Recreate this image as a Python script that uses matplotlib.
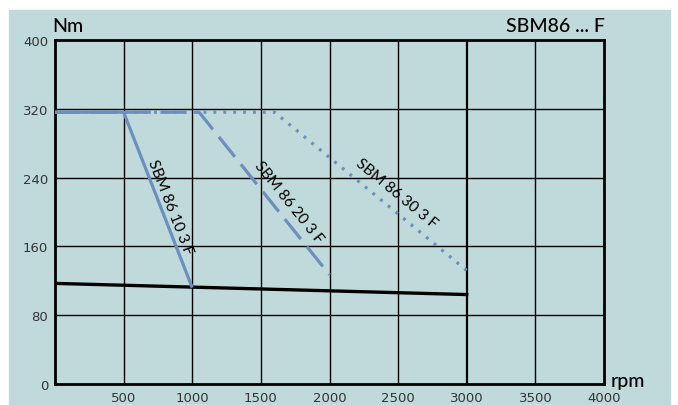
import math
import matplotlib
matplotlib.use("Agg")
import matplotlib.pyplot as plt
from matplotlib.patches import Rectangle

# --------------------------------------------------
# Chart data
# --------------------------------------------------
x_ticks = [500, 1000, 1500, 2000, 2500, 3000, 3500, 4000]
y_ticks = [0, 80, 160, 240, 320, 400]

limit_rpm = [0, 3000]
limit_nm = [117, 104]

m10_rpm = [0, 500, 1000]
m10_nm = [316, 316, 112]

m20_rpm = [0, 1050, 2000]
m20_nm = [316, 316, 127]

m30_rpm = [0, 1600, 3000]
m30_nm = [316, 316, 132]

labels = ["SBM 86 10 3 F", "SBM 86 20 3 F", "SBM 86 30 3 F"]
label_pos = [(840, 206), (1700, 212), (2490, 222)]

bg = "#C0DADB"
blue = "#6B8FBF"

# --------------------------------------------------
# Figure
# --------------------------------------------------
fig = plt.figure(figsize=(6.78, 4.06), dpi=100)
fig.patches.append(Rectangle((9 / 678, 0), 661 / 678, 395 / 406,
                             transform=fig.transFigure, color=bg, zorder=-5))
ax = fig.add_axes([55 / 678, 21 / 406, 549 / 678, 344 / 406])
ax.set_facecolor(bg)
ax.set_xlim(0, 4000)
ax.set_ylim(0, 400)

# grid
for xv in x_ticks[:-1]:
    ax.axvline(xv, color="black", lw=1.6 if xv == 3000 else 1.0, zorder=1)
for yv in y_ticks[1:-1]:
    ax.axhline(yv, color="black", lw=1.0, zorder=1)
for s in ax.spines.values():
    s.set_linewidth(2.0)

# curves (dotted underneath, solid on top)
ax.plot(limit_rpm, limit_nm, color="black", lw=2.4, zorder=3)
ax.plot(m30_rpm, m30_nm, color=blue, lw=2.3, dashes=(0.9, 2.2), zorder=3)
ax.plot(m20_rpm, m20_nm, color=blue, lw=2.3, dashes=(8, 3), zorder=3)
ax.plot(m10_rpm, m10_nm, color=blue, lw=2.3, solid_capstyle="butt", zorder=3)

# rotated labels following the slopes
fig.canvas.draw()
for (xs, ys), text, (tx, ty) in zip([(m10_rpm, m10_nm), (m20_rpm, m20_nm), (m30_rpm, m30_nm)],
                                     labels, label_pos):
    p1 = ax.transData.transform((xs[1], ys[1]))
    p2 = ax.transData.transform((xs[2], ys[2]))
    ang = math.degrees(math.atan2(p2[1] - p1[1], p2[0] - p1[0]))
    ax.text(tx, ty, text, rotation=ang, rotation_mode="anchor", ha="center", va="center",
            fontsize=11, family="Lato", color="black", zorder=4)

# ticks
ax.set_xticks(x_ticks)
ax.set_yticks(y_ticks)
ax.tick_params(length=0, labelsize=9.5, colors="#333333", pad=5)
ax.set_xticklabels([str(v) for v in x_ticks], family="Liberation Sans Narrow")
ax.set_yticklabels([str(v) for v in y_ticks], family="Liberation Sans Narrow")

# titles
fig.text(52 / 678, 1 - 32 / 406, "Nm", fontsize=14, family="Lato", fontweight="medium")
fig.text(605 / 678, 1 - 32 / 406, "SBM86 ... F", fontsize=14, family="Lato",
         fontweight="medium", ha="right")
fig.text(611 / 678, 1 - 387 / 406, "rpm", fontsize=14, family="Lato", fontweight="medium")

fig.savefig("out.png", dpi=100, facecolor="white")
